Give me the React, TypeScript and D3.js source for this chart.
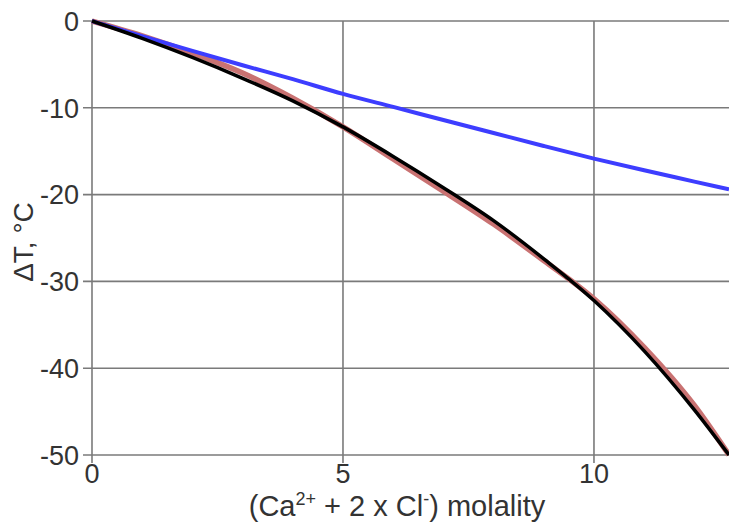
import { useEffect, useRef } from 'react';
import * as d3 from 'd3';

// molality of ions
const molality = [0, 1, 2, 3, 4, 5, 6, 7, 8, 9, 10, 11, 12, 12.69];
// measured freezing point depression (red)
const measured = [0, -1.7, -3.7, -6.0, -8.9, -12.2, -15.9, -19.6, -23.4, -27.6, -32.0, -37.6, -44.3, -50];
// model fit (black)
const model = [0, -2.0, -4.2, -6.6, -9.2, -12.2, -15.6, -19.2, -23.0, -27.4, -32.2, -38.0, -44.8, -50];
// ideal solution (blue)
const ideal = [0, -1.75, -3.45, -5.1, -6.7, -8.4, -9.9, -11.4, -12.9, -14.4, -15.85, -17.2, -18.5, -19.4];

const xTicks = [0, 5, 10];
const yTicks = [0, -10, -20, -30, -40, -50];

const App = () => {
  const svgRef = useRef<SVGSVGElement>(null);

  useEffect(() => {
    const svg = d3.select(svgRef.current);
    svg.selectAll('*').remove();

    const left = 92, right = 729, top = 21, bottom = 455;
    const font = 'Liberation Sans, Arial, sans-serif';

    const x = d3.scaleLinear().domain([0, 12.69]).range([left, right]);
    const y = d3.scaleLinear().domain([-50, 0]).range([bottom, top]);

    const grid = svg.append('g').attr('stroke', '#7a7a7a').attr('stroke-width', 1.6);

    // horizontal grid + left ticks
    yTicks.forEach(t => {
      grid.append('line')
        .attr('x1', left - 9).attr('x2', right)
        .attr('y1', y(t)).attr('y2', y(t));
    });
    // vertical grid + bottom ticks
    xTicks.forEach(t => {
      grid.append('line')
        .attr('x1', x(t)).attr('x2', x(t))
        .attr('y1', top).attr('y2', bottom + 8);
    });

    // tick labels
    svg.append('g')
      .selectAll('text')
      .data(yTicks)
      .join('text')
      .attr('x', left - 13)
      .attr('y', d => y(d))
      .attr('dy', '0.36em')
      .attr('text-anchor', 'end')
      .attr('font-family', font)
      .attr('font-size', 27)
      .attr('fill', '#333')
      .text(d => d);

    svg.append('g')
      .selectAll('text')
      .data(xTicks)
      .join('text')
      .attr('x', d => x(d))
      .attr('y', 483)
      .attr('text-anchor', 'middle')
      .attr('font-family', font)
      .attr('font-size', 27)
      .attr('fill', '#333')
      .text(d => d);

    const line = d3.line<number>()
      .x((_, i) => x(molality[i]))
      .y(d => y(d))
      .curve(d3.curveMonotoneX);

    svg.append('path').datum(measured)
      .attr('d', line).attr('fill', 'none')
      .attr('stroke', '#c97272').attr('stroke-width', 5.5);
    svg.append('path').datum(ideal)
      .attr('d', line).attr('fill', 'none')
      .attr('stroke', '#3d3dff').attr('stroke-width', 4);
    svg.append('path').datum(model)
      .attr('d', line).attr('fill', 'none')
      .attr('stroke', '#000').attr('stroke-width', 3.5);

    // axis titles
    svg.append('text')
      .attr('transform', `translate(33, 242) rotate(-90)`)
      .attr('text-anchor', 'middle')
      .attr('font-family', font)
      .attr('font-size', 28)
      .attr('fill', '#333')
      .text('ΔT, °C');

    const xt = svg.append('text')
      .attr('x', 397)
      .attr('y', 516)
      .attr('text-anchor', 'middle')
      .attr('font-family', font)
      .attr('font-size', 29)
      .attr('fill', '#333');
    xt.append('tspan').text('(Ca');
    xt.append('tspan').attr('dy', -11).attr('font-size', 18).text('2+');
    xt.append('tspan').attr('dy', 11).text(' + 2 x Cl');
    xt.append('tspan').attr('dy', -11).attr('font-size', 18).text('-');
    xt.append('tspan').attr('dy', 11).text(') molality');
  }, []);

  return (
    <svg
      ref={svgRef}
      width={729}
      height={522}
      style={{ position: 'fixed', left: 0, top: 0, background: '#fff' }}
    />
  );
};

export default App;
